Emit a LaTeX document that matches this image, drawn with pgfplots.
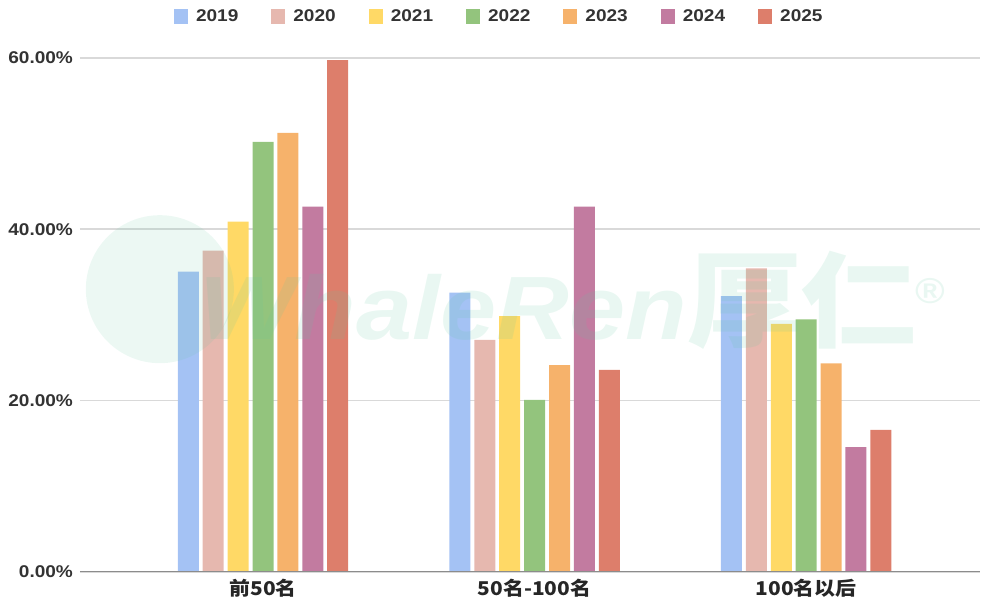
\documentclass[border=0pt]{standalone}
\usepackage{pgfplots}
\pgfplotsset{compat=1.18}
\usepackage{fontspec}
\setmainfont{Liberation Sans}[FakeStretch=1.12]
\newfontfamily\cjk{Noto Sans CJK SC}[FakeStretch=1.1]
\definecolor{c19}{HTML}{A4C2F4}
\definecolor{c20}{HTML}{E6B8AF}
\definecolor{c21}{HTML}{FFD966}
\definecolor{c22}{HTML}{93C47D}
\definecolor{c23}{HTML}{F6B26B}
\definecolor{c24}{HTML}{C27BA0}
\definecolor{c25}{HTML}{DD7E6B}
\definecolor{wm}{RGB}{100,200,160}
\begin{document}
\begin{tikzpicture}
\begin{axis}[
  name=ax, at={(0,0)}, anchor=south west,
  scale only axis, width=450pt, height=257pt,
  ymin=0, ymax=60, xmin=-0.674, xmax=2.64,
  ybar=1.95pt, bar width=10.5pt,
  axis line style={draw=none},
  ytick={0,20,40,60}, ymajorgrids,
  grid style={black!15, line width=0.8pt},
  major tick length=0pt,
  ytick style={draw=none}, xtick style={draw=none},
  /pgf/number format/assume math mode=true,
  yticklabel={\pgfmathprintnumber[fixed,fixed zerofill,precision=2]{\tick}\%},
  y tick label style={font=\bfseries\fontsize{8.5}{10}\selectfont, text=black!80},
  xtick={0,1,2}, xticklabels={前50名,50名-100名,100名以后},
  x tick label style={font=\cjk\bfseries\fontsize{9.5}{11}\selectfont, text=black!85},
  legend columns=7,
  legend style={at={(0.467,1)}, anchor=center, yshift=20.5pt, draw=none, fill=none,
    font=\bfseries\fontsize{8.5}{10}\selectfont, text=black!80,
    /tikz/every even column/.append style={column sep=14.5pt}},
  legend image code/.code={\fill[#1,draw=none] (0pt,-3.75pt) rectangle (7pt,3.75pt); \path (9pt,0pt);},
]
\addplot[fill=c19,draw=none] coordinates {(0,35.04) (1,32.59) (2,32.2)};
\addplot[fill=c20,draw=none] coordinates {(0,37.49) (1,27.07) (2,35.44)};
\addplot[fill=c21,draw=none] coordinates {(0,40.88) (1,29.87) (2,28.94)};
\addplot[fill=c22,draw=none] coordinates {(0,50.21) (1,20.07) (2,29.49)};
\addplot[fill=c23,draw=none] coordinates {(0,51.26) (1,24.15) (2,24.35)};
\addplot[fill=c24,draw=none] coordinates {(0,42.63) (1,42.63) (2,14.55)};
\addplot[fill=c25,draw=none] coordinates {(0,59.74) (1,23.57) (2,16.57)};
\legend{2019,2020,2021,2022,2023,2024,2025}
\draw[black!45, line width=1pt] (rel axis cs:0,0) -- (rel axis cs:1,0);
\fill[wm, opacity=0.12] (axis cs:-0.38,33) circle[radius=37pt];
\node[text=wm, text opacity=0.14, inner sep=0pt] at (axis cs:1.14,31.7)
  {\bfseries\itshape\fontsize{45}{45}\selectfont WhaleRen{\cjk\upshape\fontsize{52}{52}\selectfont 厚仁}\raisebox{18pt}{\upshape\fontsize{18}{18}\selectfont ®}};
\end{axis}
\pgfresetboundingbox
\path[use as bounding box] ([xshift=-40pt,yshift=-18pt]ax.south west) rectangle ([xshift=1pt,yshift=28.95pt]ax.north east);
\end{tikzpicture}
\end{document}
